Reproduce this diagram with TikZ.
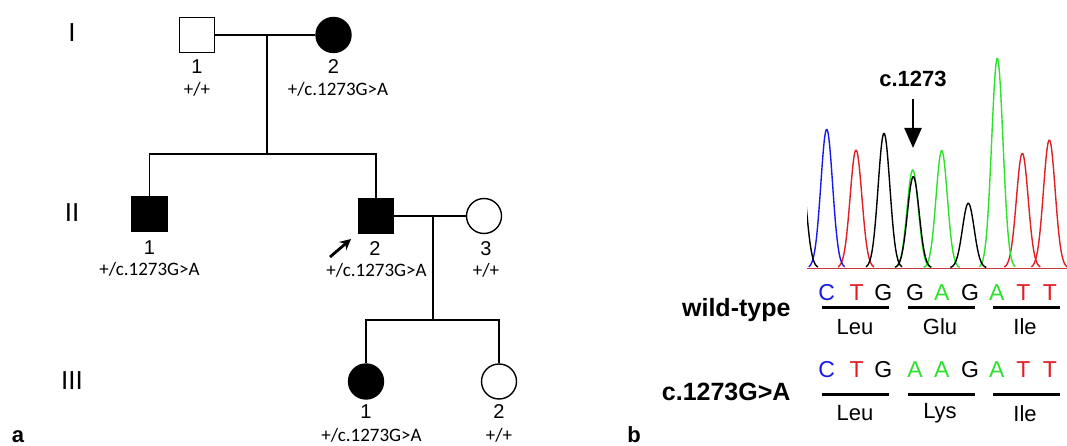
\documentclass[tikz,border=0pt]{standalone}
\usepackage{fontspec}
\setmainfont{Liberation Sans}
\newfontfamily\calib{Carlito}
\usetikzlibrary{arrows.meta}

\definecolor{seqblue}{RGB}{25,25,235}
\definecolor{seqred}{RGB}{225,30,35}
\definecolor{seqgreen}{RGB}{45,225,45}

\tikzset{
  male/.style={draw, line width=1.4pt, minimum size=35pt, inner sep=0pt, fill=white},
  female/.style={circle, draw, line width=1.4pt, minimum size=35pt, inner sep=0pt, fill=white},
  affected/.style={fill=black},
  gen/.style={font=\fontsize{26}{26}\selectfont},
  idnum/.style={font=\fontsize{20}{20}\selectfont},
  geno/.style={font=\calib\fontsize{19}{19}\selectfont},
  panel/.style={font=\bfseries\fontsize{22}{22}\selectfont},
  rowlab/.style={font=\bfseries\fontsize{25}{25}\selectfont, anchor=east},
  nt/.style={font=\fontsize{23}{23}\selectfont, inner sep=0pt},
  aa/.style={font=\fontsize{22}{22}\selectfont, inner sep=0pt},
  trace/.style={line width=1.4pt, samples=50, smooth}
}

\begin{document}
\begin{tikzpicture}[x=1pt,y=-1pt]
	\useasboundingbox (0,0) rectangle (1067,446);

	% pedigree
	\node[gen] (g1) at (72,33) {I};
	\node[gen] (g2) at (72,213) {II};
	\node[gen] (g3) at (72,381) {III};

	\node[male] (i1) at (197,35) {};
	\node[female, affected] (i2) at (333.5,35) {};
	\node[male, affected] (ii1) at (149.5,214) {};
	\node[male, affected] (ii2) at (376,216) {};
	\node[female] (ii3) at (484,216) {};
	\node[female, affected] (iii1) at (366,381.5) {};
	\node[female] (iii2) at (499,381.5) {};

	\coordinate (m1) at (267,35);
	\coordinate (s1) at (267,154);
	\coordinate (m2) at (433,216);
	\coordinate (s2) at (433,320);

	\draw[line width=1.4pt] (i1) -- (i2);
	\draw[line width=1.4pt] (m1) -- (s1);
	\draw[line width=1.4pt] (ii1.north) |- (s1) -| (ii2.north);
	\draw[line width=1.4pt] (ii2) -- (ii3);
	\draw[line width=1.4pt] (m2) -- (s2);
	\draw[line width=1.4pt] (iii1.north) |- (s2) -| (iii2.north);

	\node[idnum] (n-i1) at (197,67) {1};
	\node[geno] at (197,89) {+/+};
	\node[idnum] (n-i2) at (333.5,67) {2};
	\node[geno] at (338,89) {+/c.1273G>A};
	\node[idnum] (n-ii1) at (149.5,248) {1};
	\node[geno] at (149.5,269) {+/c.1273G>A};
	\node[idnum] (n-ii2) at (375,249) {2};
	\node[geno] at (376.5,270) {+/c.1273G>A};
	\node[idnum] (n-ii3) at (486,249) {3};
	\node[geno] at (486,270) {+/+};
	\node[idnum] (n-iii1) at (366,412) {1};
	\node[geno] at (371.5,435) {+/c.1273G>A};
	\node[idnum] (n-iii2) at (499,412) {2};
	\node[geno] at (499,435) {+/+};

	% proband
	\coordinate (pbtail) at (330,257);
	\coordinate (pbhead) at (351,239);
	\draw[line width=2.8pt, -{Stealth[length=11pt,width=11pt]}] (pbtail) -- (pbhead);

	\node[panel] (pa) at (18,437) {a};
	\node[panel] (pb) at (634,435) {b};

	% chromatogram
	\begin{scope}
		\clip (807,40) rectangle (1067,272);
		\draw[seqred!70!gray, line width=1pt] (807,268) -- (1067,268);
		\foreach \c/\t in {856/150, 1022.3/153.3, 1049.3/140}
			\draw[trace, seqred, domain=\c-18:\c+18] plot (\x, {268-(268-\t)*exp(-((\x-\c)/8.3)^2)});
		\foreach \c/\t in {912.7/170, 941.7/150.7, 997.3/58.3}
			\draw[trace, seqgreen, domain=\c-18:\c+18] plot (\x, {268-(268-\t)*exp(-((\x-\c)/8)^2)});
		\foreach \c/\t in {826.7/129.3}
			\draw[trace, seqblue, domain=\c-18:\c+18] plot (\x, {268-(268-\t)*exp(-((\x-\c)/8.3)^2)});
		\foreach \c/\t in {800/160, 884/133.3, 913.3/176.7, 968.3/203.3}
			\draw[trace, black, domain=\c-18:\c+18] plot (\x, {268-(268-\t)*exp(-((\x-\c)/8.3)^2)});
	\end{scope}

	\node[font=\bfseries\fontsize{22}{22}\selectfont] (pos) at (913,79) {c.1273};
	\coordinate (poshead) at (913,148);
	\draw[line width=2.4pt, shorten <=9pt, -{Triangle[length=20pt,width=17pt]}] (pos) -- (poshead);

	% sequences
	\node[rowlab] (wt) at (794,310) {wild-type};
	\node[rowlab] (mt) at (794,392) {c.1273G>A};

	\foreach \ch/\col/\x [count=\i] in {C/seqblue/826.7, T/seqred/856.7, G/black/883.3,
			G/black/915, A/seqgreen/941.7, G/black/970, A/seqgreen/996.7, T/seqred/1023.3, T/seqred/1050}
		\node[nt, text=\col] (wt\i) at (\x,292.7) {\ch};
	\foreach \ch/\col/\x [count=\i] in {C/seqblue/826.7, T/seqred/856.7, G/black/883.3,
			A/seqgreen/915, A/seqgreen/941.7, G/black/970, A/seqgreen/996.7, T/seqred/1023.3, T/seqred/1050}
		\node[nt, text=\col] (mt\i) at (\x,369.3) {\ch};

	\foreach \y in {307.3, 394}
		\foreach \a/\b in {821.7/889.3, 908.3/975, 993.3/1060}
			\draw[line width=3pt] (\a,\y) -- (\b,\y);

	\node[aa] (wtaa1) at (855,326.7) {Leu};
	\node[aa] (wtaa2) at (940,326.7) {Glu};
	\node[aa] (wtaa3) at (1025,326.7) {Ile};
	\node[aa] (mtaa1) at (855,413.3) {Leu};
	\node[aa] (mtaa2) at (940,413.3) {Lys};
	\node[aa] (mtaa3) at (1025,413.3) {Ile};
\end{tikzpicture}
\end{document}
